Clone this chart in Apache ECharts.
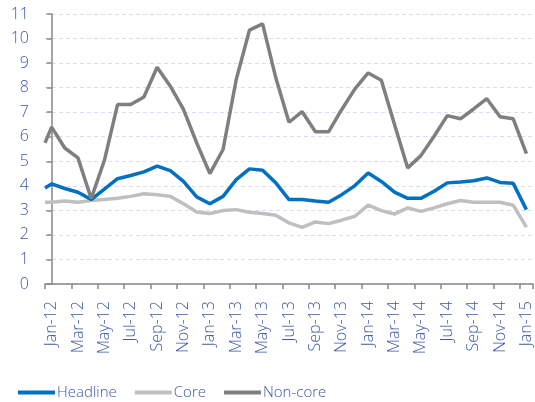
<!DOCTYPE html>
<html>
<head>
<meta charset="utf-8">
<script src="https://cdn.jsdelivr.net/npm/echarts@6/dist/echarts.min.js"></script>
<style>
html,body{margin:0;padding:0;background:#fff;}
#chart{width:535px;height:402px;}
</style>
</head>
<body>
<div id="chart"></div>
<script>
// Monthly categories Jan-12 .. Jan-15
var months = ['Jan-12','Feb-12','Mar-12','Apr-12','May-12','Jun-12','Jul-12','Aug-12','Sep-12','Oct-12','Nov-12','Dec-12',
  'Jan-13','Feb-13','Mar-13','Apr-13','May-13','Jun-13','Jul-13','Aug-13','Sep-13','Oct-13','Nov-13','Dec-13',
  'Jan-14','Feb-14','Mar-14','Apr-14','May-14','Jun-14','Jul-14','Aug-14','Sep-14','Oct-14','Nov-14','Dec-14','Jan-15'];

// value where each line enters at the left edge of the plot
var leadHeadline = 3.91;
var leadCore = 3.33;
var leadNonCore = 5.75;

var headline = [4.08,3.89,3.74,3.44,3.87,4.29,4.42,4.57,4.80,4.62,4.18,3.55,
  3.27,3.57,4.25,4.69,4.63,4.12,3.44,3.44,3.38,3.33,3.64,4.01,
  4.52,4.18,3.74,3.49,3.49,3.78,4.12,4.16,4.21,4.32,4.14,4.10,3.03];
var core = [3.33,3.38,3.33,3.40,3.44,3.49,3.57,3.68,3.64,3.57,3.27,2.93,
  2.87,2.99,3.03,2.92,2.87,2.80,2.49,2.31,2.53,2.46,2.60,2.76,
  3.21,2.99,2.85,3.10,2.96,3.10,3.27,3.40,3.33,3.33,3.33,3.21,2.32];
var nonCore = [6.39,5.54,5.14,3.48,5.03,7.31,7.31,7.62,8.83,8.06,7.11,5.75,
  4.50,5.48,8.33,10.34,10.60,8.40,6.59,7.02,6.20,6.20,7.11,7.95,
  8.60,8.30,6.50,4.73,5.23,6.02,6.86,6.73,7.13,7.55,6.81,6.73,5.31];

var yTicks = [0,1,2,3,4,5,6,7,8,9,10,11];

function toXY(lead, arr){
  var out = [[-0.5, lead]];
  for (var i = 0; i < arr.length; i++) out.push([i, arr[i]]);
  return out;
}

var textColor = '#3d58a6';
var fontFam = '"Open Sans", "Noto Sans", sans-serif';

var chart = echarts.init(document.getElementById('chart'), null, {renderer:'canvas'});
chart.setOption({
  animation: false,
  backgroundColor: '#ffffff',
  grid: {left: 45, right: 2, top: 14, bottom: 118, containLabel: false},
  legend: {
    left: 13, top: 380,
    icon: 'rect', itemWidth: 37, itemHeight: 4, itemGap: 18,
    textStyle: {color: textColor, fontFamily: fontFam, fontSize: 15, fontWeight: 300, padding: [0,0,0,-3]},
    data: ['Headline','Core','Non-core']
  },
  xAxis: [{
    type: 'category',
    data: months,
    boundaryGap: true,
    axisLine: {lineStyle: {color: '#878787', width: 1.5}},
    axisTick: {show: true, interval: 1, length: 5, lineStyle: {color: '#878787', width: 1.5}},
    axisLabel: {interval: 1, rotate: 90, margin: 17, color: textColor, fontFamily: fontFam, fontSize: 16, fontWeight: 300},
    splitLine: {show: false}
  },{
    type: 'value',
    min: -0.5, max: 36.5,
    show: false,
    splitLine: {show: false}
  }],
  yAxis: {
    type: 'value',
    min: 0, max: 11, interval: 1,
    axisLine: {show: true, lineStyle: {color: '#878787', width: 1.5}},
    axisTick: {show: true, inside: false, length: 5, lineStyle: {color: '#878787', width: 1.5}},
    axisLabel: {margin: 16, color: textColor, fontFamily: fontFam, fontSize: 16, fontWeight: 300,
      formatter: function(v){ return yTicks.indexOf(v) >= 0 ? String(v) : ''; }},
    splitLine: {show: true, lineStyle: {color: '#d6e0f2', width: 1.2, type: [4,3]}}
  },
  series: [
    {name: 'Headline', type: 'line', xAxisIndex: 1, data: toXY(leadHeadline, headline),
     showSymbol: false, symbol: 'none', lineStyle: {color: '#0070c0', width: 3.5}, itemStyle: {color: '#0070c0'}, z: 3},
    {name: 'Core', type: 'line', xAxisIndex: 1, data: toXY(leadCore, core),
     showSymbol: false, symbol: 'none', lineStyle: {color: '#bfbfbf', width: 3.5}, itemStyle: {color: '#bfbfbf'}, z: 2},
    {name: 'Non-core', type: 'line', xAxisIndex: 1, data: toXY(leadNonCore, nonCore),
     showSymbol: false, symbol: 'none', lineStyle: {color: '#7f7f7f', width: 3.5}, itemStyle: {color: '#7f7f7f'}, z: 4}
  ]
});
</script>
</body>
</html>
